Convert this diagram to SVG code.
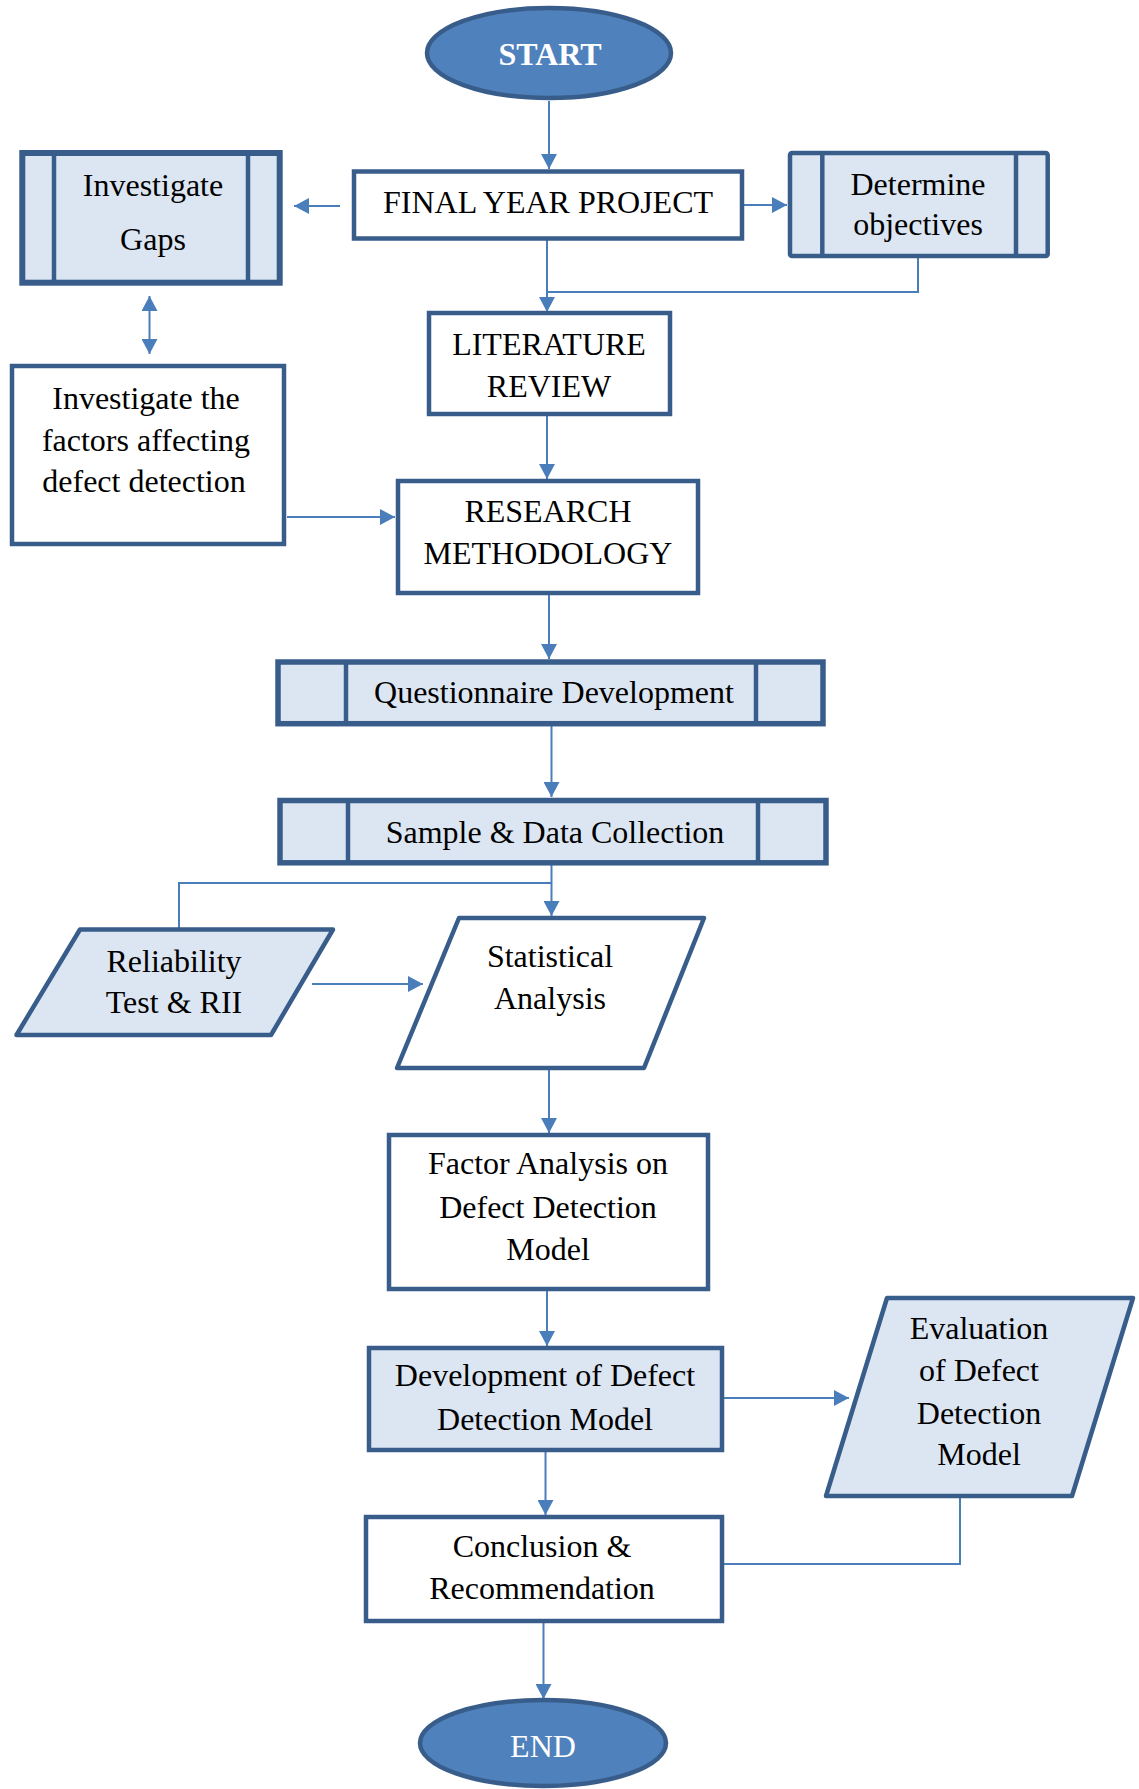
<svg xmlns="http://www.w3.org/2000/svg" width="1139" height="1789" viewBox="0 0 1139 1789">
<style>
  .box { fill: #ffffff; stroke: #385d8a; stroke-width: 4.5; }
  .lbox { fill: #dce6f2; stroke: #385d8a; stroke-width: 4.5; }
  .thick { stroke-width: 6; }
  .mid { stroke-width: 5.5; }
  .term { fill: #4f81bd; stroke: #385d8a; stroke-width: 4.5; }
  .div { stroke: #385d8a; stroke-width: 4.5; fill: none; }
  .t { font-family: "Liberation Serif", "Times New Roman", serif; font-size: 32px; fill: #000000; text-anchor: middle; }
  .tw { font-family: "Liberation Serif", "Times New Roman", serif; font-size: 32px; fill: #ffffff; text-anchor: middle; }
  .c { fill: none; stroke: #4a7ebb; stroke-width: 2; }
  .ca { fill: none; stroke: #4a7ebb; stroke-width: 2; marker-end: url(#ah); }
</style>
<defs>
  <marker id="ah" markerUnits="userSpaceOnUse" markerWidth="16" markerHeight="16" refX="15" refY="8" orient="auto-start-reverse" viewBox="0 0 16 16">
    <path d="M0,0 L15,8 L0,16 z" fill="#4a7ebb"/>
  </marker>
</defs>

<g id="connectors">
  <path class="ca" d="M549,101 V169"/>
  <path class="ca" d="M340,206 H294"/>
  <path class="ca" d="M743,205 H787"/>
  <path class="ca" d="M547,240 V312"/>
  <path class="c" d="M918,258 V292 H547"/>
  <path class="ca" d="M149.5,296 V354" style="marker-start:url(#ah)"/>
  <path class="ca" d="M287,517 H395"/>
  <path class="ca" d="M547,416 V479"/>
  <path class="ca" d="M549,595 V659"/>
  <path class="ca" d="M551.5,726 V797"/>
  <path class="ca" d="M551.5,865 V916"/>
  <path class="c" d="M551.5,883 H179 V929 H146"/>
  <path class="ca" d="M312,984 H423"/>
  <path class="ca" d="M549,1069 V1133"/>
  <path class="ca" d="M547,1291 V1346"/>
  <path class="ca" d="M724,1398 H849"/>
  <path class="c" d="M960,1497 V1564 H724"/>
  <path class="ca" d="M545.5,1451 V1515"/>
  <path class="ca" d="M543.5,1623 V1699"/>
</g>

<g id="start">
  <ellipse class="term" cx="549" cy="53" rx="122" ry="45"/>
  <text class="tw" x="550" y="65" font-weight="bold">START</text>
</g>

<g id="final-year-project">
  <rect class="box" x="354" y="171.5" width="388" height="67"/>
  <text class="t" x="548" y="213">FINAL YEAR PROJECT</text>
</g>

<g id="investigate-gaps">
  <rect class="lbox thick" x="22.3" y="153" width="257.4" height="129.7"/>
  <line class="div thick" x1="54" y1="153" x2="54" y2="282.7"/>
  <line class="div thick" x1="248" y1="153" x2="248" y2="282.7"/>
  <text class="t" x="153" y="196">Investigate</text>
  <text class="t" x="153" y="250">Gaps</text>
</g>

<g id="determine-objectives">
  <rect class="lbox" x="790" y="153" width="257.7" height="103" rx="2" stroke-linejoin="round"/>
  <line class="div" x1="822.3" y1="153" x2="822.3" y2="256"/>
  <line class="div" x1="1016" y1="153" x2="1016" y2="256"/>
  <text class="t" x="918" y="194.5">Determine</text>
  <text class="t" x="918" y="235">objectives</text>
</g>

<g id="literature-review">
  <rect class="box" x="429" y="313" width="241" height="101"/>
  <text class="t" x="549" y="355">LITERATURE</text>
  <text class="t" x="549" y="397">REVIEW</text>
</g>

<g id="investigate-factors">
  <rect class="box" x="12" y="366" width="272" height="178"/>
  <text class="t" x="146" y="409">Investigate the</text>
  <text class="t" x="146" y="451">factors affecting</text>
  <text class="t" x="144" y="492">defect detection</text>
</g>

<g id="research-methodology">
  <rect class="box" x="398" y="481" width="300" height="112"/>
  <text class="t" x="548" y="522">RESEARCH</text>
  <text class="t" x="548" y="564">METHODOLOGY</text>
</g>

<g id="questionnaire-development">
  <rect class="lbox mid" x="278" y="662" width="545" height="61.7"/>
  <line class="div mid" x1="346" y1="662" x2="346" y2="723.7"/>
  <line class="div mid" x1="756" y1="662" x2="756" y2="723.7"/>
  <text class="t" x="554" y="703">Questionnaire Development</text>
</g>

<g id="sample-data-collection">
  <rect class="lbox mid" x="280" y="800.5" width="546" height="62.3"/>
  <line class="div mid" x1="348" y1="800.5" x2="348" y2="862.8"/>
  <line class="div mid" x1="758" y1="800.5" x2="758" y2="862.8"/>
  <text class="t" x="555" y="843">Sample &amp; Data Collection</text>
</g>

<g id="reliability-test">
  <polygon class="lbox" points="80,929.5 333,929.5 271,1035 16.5,1035" stroke-linejoin="round"/>
  <text class="t" x="174" y="972">Reliability</text>
  <text class="t" x="174" y="1013">Test &amp; RII</text>
</g>

<g id="statistical-analysis">
  <polygon class="box" points="459,918 704,918 644,1068 397,1068" stroke-linejoin="round"/>
  <text class="t" x="550" y="967">Statistical</text>
  <text class="t" x="550" y="1009">Analysis</text>
</g>

<g id="factor-analysis">
  <rect class="box" x="389" y="1135" width="319" height="154"/>
  <text class="t" x="548" y="1174">Factor Analysis on</text>
  <text class="t" x="548" y="1218">Defect Detection</text>
  <text class="t" x="548" y="1260">Model</text>
</g>

<g id="development-model">
  <rect class="lbox" x="369" y="1348" width="353" height="102"/>
  <text class="t" x="545" y="1386">Development of Defect</text>
  <text class="t" x="545" y="1430">Detection Model</text>
</g>

<g id="evaluation-model">
  <polygon class="lbox" points="887,1298 1133,1298 1072,1496 826,1496" stroke-linejoin="round"/>
  <text class="t" x="979" y="1339">Evaluation</text>
  <text class="t" x="979" y="1381">of Defect</text>
  <text class="t" x="979" y="1424">Detection</text>
  <text class="t" x="979" y="1465">Model</text>
</g>

<g id="conclusion">
  <rect class="box" x="366" y="1517" width="356" height="104"/>
  <text class="t" x="542" y="1557">Conclusion &amp;</text>
  <text class="t" x="542" y="1599">Recommendation</text>
</g>

<g id="end">
  <ellipse class="term" cx="543" cy="1743" rx="123" ry="43"/>
  <text class="tw" x="543" y="1757">END</text>
</g>
</svg>
